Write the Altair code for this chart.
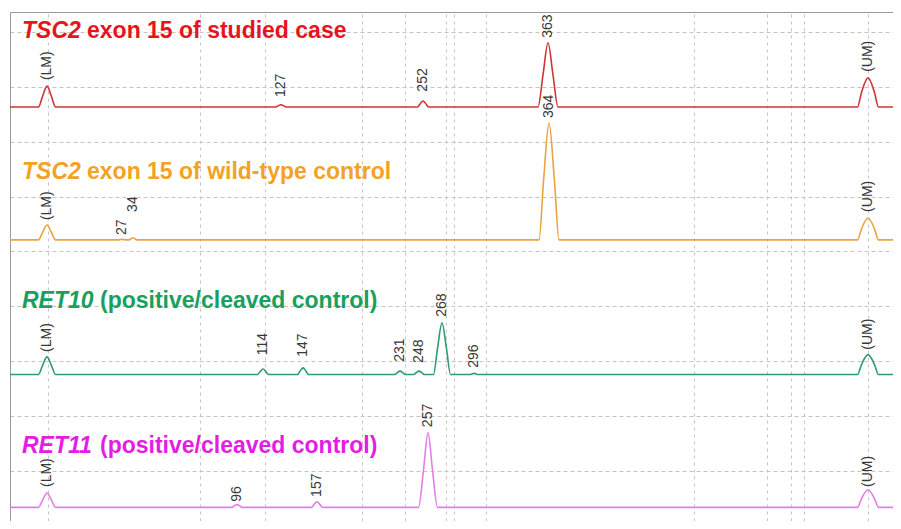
import altair as alt
import pandas as pd

# ---------------- data ----------------
traces = ["studied", "wildtype", "ret10", "ret11"]
baselines = [76.3, 52.1, 27.6, 3.4]          # FU level of each trace's baseline
t_start, t_end = 20.0, 108.3                  # migration time range (s)

# peaks: centre (s), height above baseline (FU), base half-width (s), half-height half-width (s)
red_t = [23.7, 47.1, 61.3, 73.8, 105.8]
red_h = [3.8, 0.4, 1.1, 11.7, 5.3]
red_b = [0.85, 0.5, 0.55, 1.0, 1.05]
red_w = [0.45, 0.3, 0.3, 0.5, 0.65]

org_t = [23.7, 31.2, 32.3, 73.9, 105.8]
org_h = [2.7, 0.1, 0.4, 21.3, 4.0]
org_b = [0.85, 0.35, 0.4, 1.0, 1.05]
org_w = [0.45, 0.2, 0.2, 0.55, 0.65]

grn_t = [23.7, 45.3, 49.3, 59.0, 60.9, 63.2, 66.4, 105.8]
grn_h = [3.2, 1.0, 1.2, 0.6, 0.6, 9.4, 0.2, 3.6]
grn_b = [0.85, 0.55, 0.55, 0.5, 0.5, 0.85, 0.35, 1.05]
grn_w = [0.45, 0.3, 0.3, 0.3, 0.3, 0.45, 0.2, 0.65]

mag_t = [23.7, 42.7, 50.7, 61.8, 105.8]
mag_h = [2.6, 0.5, 1.0, 13.6, 3.2]
mag_b = [0.85, 0.5, 0.55, 0.95, 1.05]
mag_w = [0.45, 0.3, 0.3, 0.45, 0.65]

# peak labels and the FU level where each label starts
red_lab = ["(LM)", "127", "252", "363", "(UM)"]
red_lv = [81.2, 78.1, 79.1, 88.9, 82.7]
org_lab = ["(LM)", "27", "34", "364", "(UM)"]
org_lv = [55.7, 53.0, 57.2, 74.3, 57.2]
grn_lab = ["(LM)", "114", "147", "231", "248", "268", "296", "(UM)"]
grn_lv = [31.7, 31.1, 30.8, 29.9, 29.7, 38.1, 28.8, 32.1]
mag_lab = ["(LM)", "96", "157", "257", "(UM)"]
mag_lv = [7.1, 4.4, 5.3, 18.0, 7.1]

title_gene = ["TSC2", "TSC2", "RET10", "RET11"]
title_rest = ["exon 15 of studied case", "exon 15 of wild-type control",
              "(positive/cleaved control)", "(positive/cleaved control)"]

vgrid = [23.8, 39.0, 45.5, 55.2, 59.5, 63.6, 64.4, 67.6, 88.4, 95.7, 98.1, 99.4, 105.8]
hgrid = [10, 20, 30, 40, 50, 60, 70, 80, 90]

line_colors = ["#d03434", "#eaa43e", "#2f9c6c", "#e47ee4"]
title_colors = ["#e8141c", "#f2a224", "#18a05e", "#e41ce4"]

# ---------------- tables ----------------
peak_sets = [
    (red_t, red_h, red_b, red_w, red_lab, red_lv),
    (org_t, org_h, org_b, org_w, org_lab, org_lv),
    (grn_t, grn_h, grn_b, grn_w, grn_lab, grn_lv),
    (mag_t, mag_h, mag_b, mag_w, mag_lab, mag_lv),
]

rows, labs = [], []
for name, base, (pt, ph, pb, pw, pl, plv) in zip(traces, baselines, peak_sets):
    rows.append({"trace": name, "t": t_start, "v": base})
    for c, h, b, w in zip(pt, ph, pb, pw):
        rows.append({"trace": name, "t": c - b, "v": base})
        rows.append({"trace": name, "t": c - w, "v": base + h / 2})
        rows.append({"trace": name, "t": c, "v": base + h})
        rows.append({"trace": name, "t": c + w, "v": base + h / 2})
        rows.append({"trace": name, "t": c + b, "v": base})
    rows.append({"trace": name, "t": t_end, "v": base})
    for c, lab, lv in zip(pt, pl, plv):
        labs.append({"trace": name, "t": c, "v": lv, "label": lab})

curve = pd.DataFrame(rows)
labels = pd.DataFrame(labs)

FONT = "Liberation Sans"
xscale = alt.Scale(domain=[t_start, t_end], nice=False, zero=False)
yscale = alt.Scale(domain=[0.91, 93.6], nice=False, zero=False)

lines = alt.Chart(curve).mark_line(interpolate="monotone", strokeWidth=1.6, clip=True).encode(
    x=alt.X("t:Q", scale=xscale,
            axis=alt.Axis(orient="top", values=vgrid, grid=True, gridDash=[3, 4],
                          gridColor="#c4c4c4", gridWidth=1, labels=False, ticks=False,
                          domain=True, domainColor="#9a9a9a", title=None)),
    y=alt.Y("v:Q", scale=yscale,
            axis=alt.Axis(values=hgrid, grid=True, gridDash=[4, 3], gridColor="#c4c4c4",
                          gridWidth=1, labels=False, ticks=False, domain=True,
                          domainColor="#9a9a9a", title=None)),
    color=alt.Color("trace:N", scale=alt.Scale(domain=traces, range=line_colors), legend=None),
    detail="trace:N",
)

peak_text = alt.Chart(labels).mark_text(
    angle=270, align="left", baseline="middle", fontSize=14, font=FONT, color="#383838"
).encode(
    x=alt.X("t:Q", scale=xscale),
    y=alt.Y("v:Q", scale=yscale),
    text="label:N",
)

title_y = [26, 167, 296, 441]
gene_x = [12, 12, 12, 12]
rest_x = [77, 77, 90, 90]

layers = [lines, peak_text]
for i in range(4):
    g = alt.Chart(pd.DataFrame({"txt": [title_gene[i]]})).mark_text(
        align="left", baseline="alphabetic", fontSize=23, font=FONT, fontWeight="bold",
        fontStyle="italic", color=title_colors[i]
    ).encode(x=alt.value(gene_x[i]), y=alt.value(title_y[i]), text="txt:N")
    r = alt.Chart(pd.DataFrame({"txt": [title_rest[i]]})).mark_text(
        align="left", baseline="alphabetic", fontSize=23, font=FONT, fontWeight="bold",
        color=title_colors[i]
    ).encode(x=alt.value(rest_x[i]), y=alt.value(title_y[i]), text="txt:N")
    layers += [g, r]

chart = alt.layer(*layers).properties(
    width=883, height=509,
    padding={"left": 2, "top": 4, "right": 0, "bottom": 0},
    autosize=alt.AutoSizeParams(type="none"),
    background="white",
).configure_view(stroke=None)

chart.save("out.html", embed_options={"renderer": "svg", "actions": False})
